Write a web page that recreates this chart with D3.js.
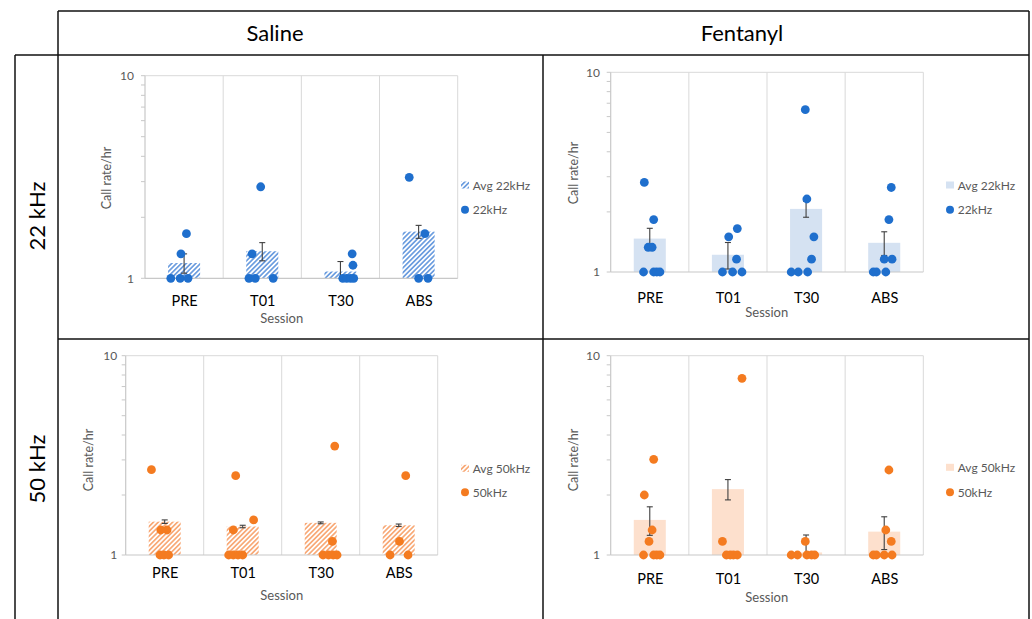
<!DOCTYPE html>
<html>
<head>
<meta charset="utf-8">
<script src="https://cdn.jsdelivr.net/npm/d3@7"></script>
<style>
  html, body { margin: 0; padding: 0; background: #fff; }
  svg { display: block; }
</style>
</head>
<body>
<svg id="chart" width="1032" height="619"></svg>
<script>
// ---------------- DATA ----------------
const categories = ["PRE", "T01", "T30", "ABS"];
const columnTitles = ["Saline", "Fentanyl"];
const rowTitles = ["22 kHz", "50 kHz"];
const yTickValues = [1, 10];
const yTickLabels = ["1", "10"];
const legendAvg = ["Avg 22kHz", "Avg 50kHz"];
const legendPts = ["22kHz", "50kHz"];

// Saline 22 kHz
const saline22Mean = [1.19, 1.36, 1.08, 1.70];
const saline22SE   = [0.13, 0.14, 0.13, 0.125];
const saline22X = [0.83, 0.95, 1.05, 0.96, 1.03,  1.83, 1.91, 2.14, 1.87, 1.98,  3.03, 3.08, 3.13, 3.17, 3.16, 3.15,  3.88, 4.08, 4.00, 4.12];
const saline22Y = [1, 1, 1, 1.32, 1.66,  1, 1, 1, 1.32, 2.83,  1, 1, 1, 1, 1.16, 1.32,  3.15, 1.66, 1, 1];

// Fentanyl 22 kHz
const fent22Mean = [1.47, 1.22, 2.07, 1.40];
const fent22SE   = [0.185, 0.185, 0.19, 0.19];
const fent22X = [0.92, 1.05, 1.09, 1.13, 0.98, 1.03, 1.05, 0.93,  1.93, 2.06, 2.18, 2.11, 2.01, 2.12,  2.81, 2.90, 3.02, 3.07, 3.10, 3.01, 2.99,  3.86, 3.90, 4.02, 4.00, 4.10, 4.06, 4.09];
const fent22Y = [1, 1, 1, 1, 1.33, 1.33, 1.83, 2.81,  1, 1, 1, 1.16, 1.50, 1.65,  1, 1, 1, 1.16, 1.50, 2.32, 6.50,  1, 1, 1, 1.16, 1.16, 1.83, 2.65];

// Saline 50 kHz
const saline50Mean = [1.47, 1.39, 1.45, 1.41];
const saline50SE   = [0.03, 0.02, 0.015, 0.02];
const saline50X = [0.83, 0.95, 1.03, 0.94, 0.99, 1.05,  1.91, 1.88, 2.14, 1.82, 1.88, 1.94, 2.00,  3.18, 3.15, 3.03, 3.10, 3.16, 3.21,  4.09, 4.01, 3.89, 4.12];
const saline50Y = [2.68, 1.335, 1.335, 1, 1, 1,  2.50, 1.335, 1.50, 1, 1, 1, 1,  3.52, 1.17, 1, 1, 1, 1,  2.50, 1.17, 1, 1];

// Fentanyl 50 kHz
const fent50Mean = [1.50, 2.14, 1.03, 1.31];
const fent50SE   = [0.245, 0.25, 0.23, 0.245];
const fent50X = [0.92, 1.05, 1.09, 1.13, 0.99, 1.03, 0.93, 1.05,  1.93, 1.98, 2.03, 2.07, 2.12, 2.18,  2.81, 2.89, 2.99, 3.01, 3.07, 3.11,  3.86, 3.90, 4.00, 4.10, 4.02, 4.09, 4.06];
const fent50Y = [1, 1, 1, 1, 1.17, 1.335, 2.00, 3.02,  1.17, 1, 1, 1, 1, 7.70,  1, 1, 1.17, 1, 1, 1,  1, 1, 1, 1, 1.335, 1.17, 2.67];

// ---------------- STYLE / LAYOUT ----------------
const BLUE = "#1f6fcd", ORANGE = "#f47b20";
const GRAY_TXT = "#595959", GRID = "#d9d9d9", AXIS = "#c8c8c8";
const FONT = "Lato, 'Open Sans', sans-serif";

const svg = d3.select("#chart");
const defs = svg.append("defs");
function hatch(id, color) {
  const s = 3.4;
  const p = defs.append("pattern").attr("id", id)
    .attr("patternUnits", "userSpaceOnUse").attr("width", s).attr("height", s)
    .attr("patternTransform", "rotate(45)");
  p.append("rect").attr("width", s).attr("height", s).attr("fill", "#fff");
  p.append("line").attr("x1", s / 2).attr("x2", s / 2).attr("y1", 0).attr("y2", s)
    .attr("stroke", color).attr("stroke-width", 1.3);
}
hatch("hatchBlue", "#3f7fd6");
hatch("hatchOrange", "#f7904f");

const panels = [
  { mean: saline22Mean, se: saline22SE, px: saline22X, py: saline22Y,
    box: { l: 145, r: 457.7, t: 75.7, b: 278.3 }, tickGap: 11, catY: 301, sesX: 281.7, sesY: 318.3,
    titX: 106.7, titY: 178, legX: 465, legY: [185, 209.7], fill: "url(#hatchBlue)", color: BLUE, li: 0 },
  { mean: fent22Mean, se: fent22SE, px: fent22X, py: fent22Y,
    box: { l: 610.7, r: 923.3, t: 72.3, b: 272 }, tickGap: 10.7, catY: 297.7, sesX: 766.7, sesY: 311.7,
    titX: 573.3, titY: 173, legX: 950, legY: [185, 209.7], fill: "#d5e2f2", color: BLUE, li: 0 },
  { mean: saline50Mean, se: saline50SE, px: saline50X, py: saline50Y,
    box: { l: 125.7, r: 437.7, t: 355.7, b: 555 }, tickGap: 8.5, catY: 573.3, sesX: 281.7, sesY: 595,
    titX: 88.3, titY: 460, legX: 465, legY: [468.3, 492.3], fill: "url(#hatchOrange)", color: ORANGE, li: 1 },
  { mean: fent50Mean, se: fent50SE, px: fent50X, py: fent50Y,
    box: { l: 610.7, r: 923.3, t: 355.7, b: 555 }, tickGap: 10.7, catY: 579.3, sesX: 766.7, sesY: 597.3,
    titX: 573.3, titY: 460, legX: 950, legY: [467.3, 492.3], fill: "#fde0cd", color: ORANGE, li: 1 }
];

panels.forEach(P => {
  const g = svg.append("g");
  const B = P.box;
  const x = d3.scaleLinear().domain([0.5, categories.length + 0.5]).range([B.l, B.r]);
  const y = d3.scaleLog().domain([1, 10]).range([B.b, B.t]);
  const catW = x(1.5) - x(0.5);

  // gridlines: category separators + top line
  const seps = d3.range(1, categories.length + 1).map(i => i + 0.5);
  g.selectAll(".sep").data(seps).join("line")
    .attr("x1", d => x(d)).attr("x2", d => x(d)).attr("y1", B.t).attr("y2", B.b)
    .attr("stroke", GRID).attr("stroke-width", 1);
  g.append("line").attr("x1", B.l).attr("x2", B.r).attr("y1", y(10)).attr("y2", y(10))
    .attr("stroke", GRID).attr("stroke-width", 1);

  // bars
  g.selectAll(".bar").data(P.mean).join("rect")
    .attr("x", (d, i) => x(i + 1) - catW * 0.205)
    .attr("width", catW * 0.41)
    .attr("y", d => y(d)).attr("height", d => y(1) - y(d))
    .attr("fill", P.fill);

  // axes lines
  g.append("line").attr("x1", B.l).attr("x2", B.r).attr("y1", y(1)).attr("y2", y(1))
    .attr("stroke", AXIS).attr("stroke-width", 1.2);
  g.append("line").attr("x1", B.l).attr("x2", B.l).attr("y1", B.t).attr("y2", B.b)
    .attr("stroke", AXIS).attr("stroke-width", 1.2);
  // minor ticks
  g.selectAll(".mt").data(y.ticks()).join("line")
    .attr("x1", B.l - 4).attr("x2", B.l).attr("y1", d => y(d)).attr("y2", d => y(d))
    .attr("stroke", AXIS).attr("stroke-width", 1);

  // y-axis tick labels
  const ya = d3.axisLeft(y).tickValues(yTickValues)
    .tickFormat((d, i) => yTickLabels[i]).tickSize(0).tickPadding(P.tickGap);
  const yg = g.append("g").attr("transform", `translate(${B.l},0)`).call(ya);
  yg.select(".domain").remove();
  yg.selectAll("text").attr("fill", GRAY_TXT).attr("font-size", 12).attr("font-family", FONT);

  // category labels
  const xa = d3.axisBottom(x).tickValues(d3.range(1, categories.length + 1))
    .tickFormat((d, i) => categories[i]).tickSize(0).tickPadding(0);
  const xg = g.append("g").attr("transform", `translate(0,${P.catY})`).call(xa);
  xg.select(".domain").remove();
  xg.selectAll("text").attr("fill", "#000").attr("font-size", 14.5).attr("font-family", FONT)
    .attr("dy", "0.35em").attr("y", 0);

  // error bars
  const cap = 3;
  P.mean.forEach((m, i) => {
    const cx = x(i + 1);
    const hi = m + P.se[i], lo = Math.max(1, m - P.se[i]);
    g.append("line").attr("x1", cx).attr("x2", cx).attr("y1", y(hi)).attr("y2", y(lo))
      .attr("stroke", "#404040").attr("stroke-width", 1.1);
    g.append("line").attr("x1", cx - cap).attr("x2", cx + cap).attr("y1", y(hi)).attr("y2", y(hi))
      .attr("stroke", "#404040").attr("stroke-width", 1.1);
    if (m - P.se[i] > 1) {
      g.append("line").attr("x1", cx - cap).attr("x2", cx + cap).attr("y1", y(lo)).attr("y2", y(lo))
        .attr("stroke", "#404040").attr("stroke-width", 1.1);
    }
  });

  // points
  g.selectAll(".pt").data(P.px.map((d, i) => [d, P.py[i]])).join("circle")
    .attr("cx", d => x(d[0])).attr("cy", d => y(d[1])).attr("r", 4.4)
    .attr("fill", P.color);

  // axis titles
  g.append("text").attr("transform", `translate(${P.titX},${P.titY}) rotate(-90)`)
    .attr("text-anchor", "middle").attr("dominant-baseline", "central")
    .attr("fill", GRAY_TXT).attr("font-size", 12.5).attr("font-family", FONT).text("Call rate/hr");
  g.append("text").attr("x", P.sesX).attr("y", P.sesY)
    .attr("text-anchor", "middle").attr("dominant-baseline", "central")
    .attr("fill", GRAY_TXT).attr("font-size", 13).attr("font-family", FONT).text("Session");

  // legend
  g.append("rect").attr("x", P.legX - 4).attr("y", P.legY[0] - 3.5).attr("width", 8).attr("height", 7)
    .attr("fill", P.fill);
  g.append("text").attr("x", P.legX + 7.7).attr("y", P.legY[0]).attr("dominant-baseline", "central")
    .attr("fill", GRAY_TXT).attr("font-size", 12).attr("font-family", FONT).text(legendAvg[P.li]);
  g.append("circle").attr("cx", P.legX).attr("cy", P.legY[1]).attr("r", 4).attr("fill", P.color);
  g.append("text").attr("x", P.legX + 7.7).attr("y", P.legY[1]).attr("dominant-baseline", "central")
    .attr("fill", GRAY_TXT).attr("font-size", 12).attr("font-family", FONT).text(legendPts[P.li]);
});

// ---------------- TABLE FRAME ----------------
const frame = svg.append("g").attr("stroke", "#111").attr("stroke-width", 1.5);
frame.append("line").attr("x1", 58).attr("x2", 1029).attr("y1", 11).attr("y2", 11);
frame.append("line").attr("x1", 15).attr("x2", 1029).attr("y1", 55).attr("y2", 55);
frame.append("line").attr("x1", 58).attr("x2", 1029).attr("y1", 339).attr("y2", 339);
frame.append("line").attr("x1", 58).attr("x2", 58).attr("y1", 11).attr("y2", 619);
frame.append("line").attr("x1", 15).attr("x2", 15).attr("y1", 55).attr("y2", 619);
frame.append("line").attr("x1", 543).attr("x2", 543).attr("y1", 55).attr("y2", 619);
frame.append("line").attr("x1", 1029).attr("x2", 1029).attr("y1", 11).attr("y2", 619);

const colX = [275, 742];
columnTitles.forEach((t, i) => {
  svg.append("text").attr("x", colX[i]).attr("y", 32).attr("text-anchor", "middle")
    .attr("dominant-baseline", "central").attr("font-size", 22).attr("font-family", FONT)
    .attr("fill", "#000").text(t);
});
const rowY = [216, 469];
rowTitles.forEach((t, i) => {
  svg.append("text").attr("transform", `translate(36.7,${rowY[i]}) rotate(-90)`)
    .attr("text-anchor", "middle").attr("dominant-baseline", "central")
    .attr("font-size", 22).attr("font-family", FONT).attr("fill", "#000").text(t);
});
</script>
</body>
</html>
